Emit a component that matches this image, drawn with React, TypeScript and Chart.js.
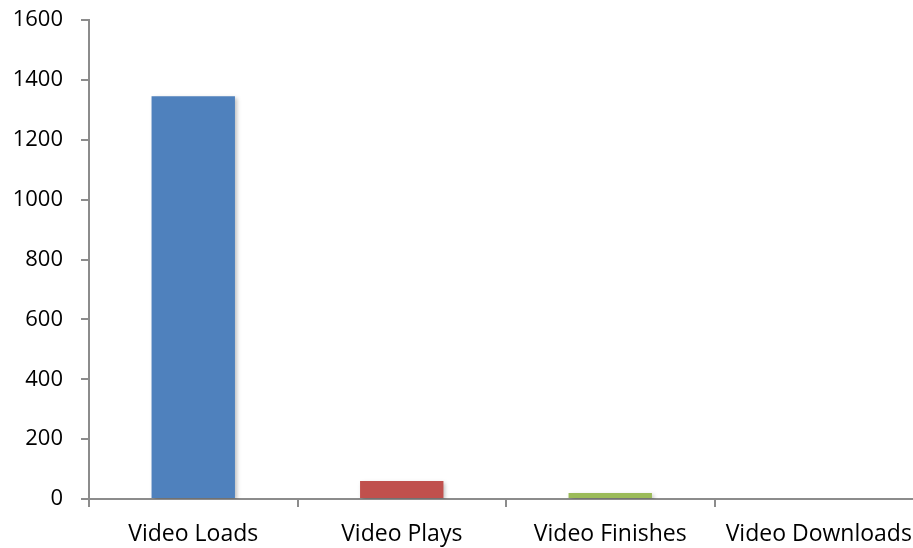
import React, { useEffect, useRef } from "react";
import { Chart, registerables } from "chart.js";

Chart.register(...registerables);

const categories = ["Video Loads", "Video Plays", "Video Finishes", "Video Downloads"];
const values = [1346, 60, 20, 0];
const barColors = ["#4F81BD", "#C0504D", "#9BBB59", "#8064A2"];
const yMin = 0;
const yMax = 1600;
const yStep = 200;

const AXIS_COLOR = "#8C8C8C";
const FONT_FAMILY = "'Open Sans', 'DejaVu Sans', sans-serif";

// Soft drop shadow under the bars
const barShadow = {
  id: "barShadow",
  beforeDatasetsDraw(chart: any) {
    const ctx = chart.ctx;
    ctx.save();
    ctx.shadowColor = "rgba(0,0,0,0.25)";
    ctx.shadowBlur = 4;
    ctx.shadowOffsetX = 2;
    ctx.shadowOffsetY = 2;
  },
  afterDatasetsDraw(chart: any) {
    chart.ctx.restore();
  },
};

export default function App() {
  const canvasRef = useRef<HTMLCanvasElement | null>(null);

  useEffect(() => {
    document.body.style.margin = "0";
    document.body.style.overflow = "hidden";
    const canvas = canvasRef.current;
    if (!canvas) return;
    const chart = new Chart(canvas, {
      type: "bar",
      data: {
        labels: categories,
        datasets: [
          {
            data: values,
            backgroundColor: barColors,
            borderWidth: 0,
            barPercentage: 0.4,
            categoryPercentage: 1.0,
          },
        ],
      },
      plugins: [barShadow],
      options: {
        responsive: false,
        animation: false,
        layout: { padding: { top: 8, right: 7, left: 0, bottom: 0 } },
        plugins: {
          legend: { display: false },
          tooltip: { enabled: false },
        },
        scales: {
          x: {
            offset: true,
            grid: {
              display: true,
              offset: true,
              drawOnChartArea: false,
              drawTicks: true,
              tickLength: 8,
              color: AXIS_COLOR,
              lineWidth: 2,
            },
            border: { display: true, color: AXIS_COLOR, width: 2 },
            ticks: {
              color: "#000000",
              font: { family: FONT_FAMILY, size: 23 },
              padding: 14,
              maxRotation: 0,
              autoSkip: false,
            },
            afterFit(scale: any) {
              scale.height = 49;
            },
          },
          y: {
            min: yMin,
            max: yMax,
            grid: {
              display: true,
              drawOnChartArea: false,
              drawTicks: true,
              tickLength: 8,
              color: AXIS_COLOR,
              lineWidth: 2,
            },
            border: { display: true, color: AXIS_COLOR, width: 2 },
            ticks: {
              stepSize: yStep,
              color: "#000000",
              font: { family: FONT_FAMILY, size: 22 },
              padding: 18,
              callback: (v: any) => String(v),
            },
            afterFit(scale: any) {
              scale.width = 89;
            },
          },
        },
      },
    });
    return () => chart.destroy();
  }, []);

  return (
    <div style={{ width: 913, height: 548, overflow: "hidden", background: "#ffffff" }}>
      <canvas
        ref={canvasRef}
        width={930}
        height={559}
        style={{ display: "block", marginTop: -11 }}
      />
    </div>
  );
}
